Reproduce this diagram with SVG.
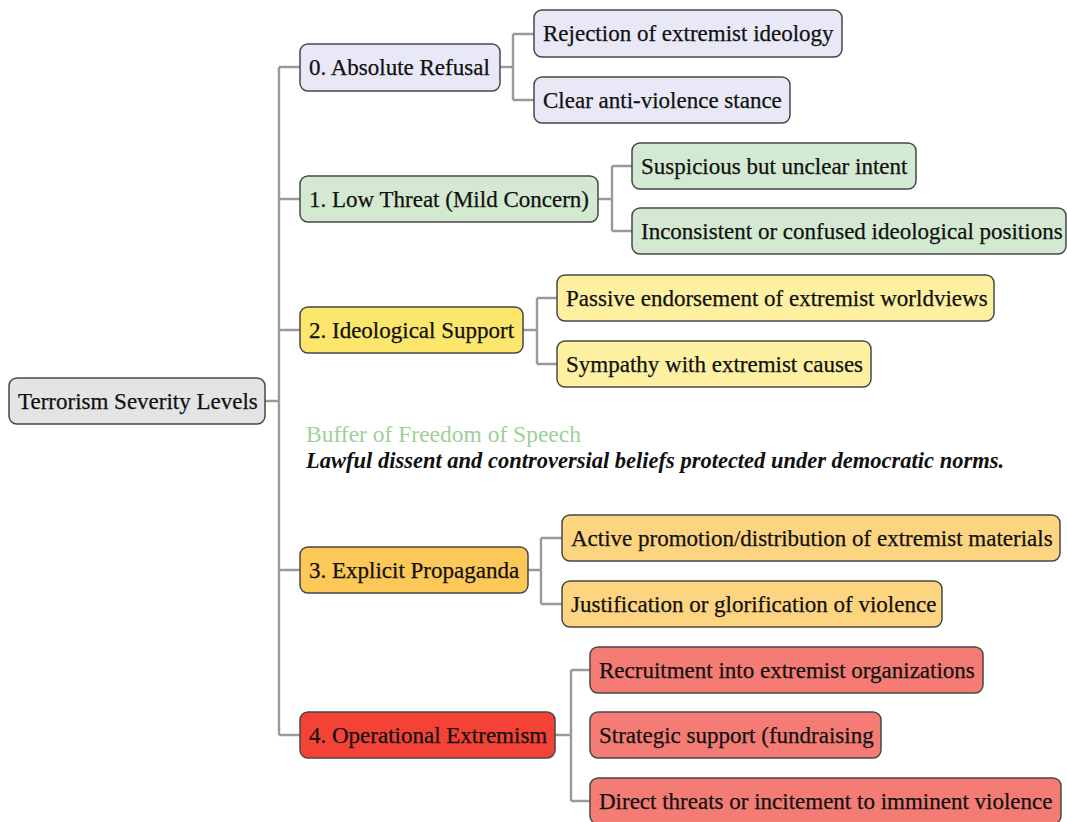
<svg xmlns="http://www.w3.org/2000/svg" width="1067" height="822" viewBox="0 0 1067 822">
<style>
.b{stroke:#474747;stroke-width:1.5}
.t{font-family:"Liberation Serif","Times New Roman",serif;font-size:23px;fill:#111;stroke:#111;stroke-width:0.25}
.c{fill:none;stroke:#9a9a9a;stroke-width:2.4}
.root{fill:#e4e4e4}
.l0{fill:#e8e8f7}
.l1{fill:#d4e9d2}
.l2{fill:#fce76c}
.l2c{fill:#fdf0a0}
.l3{fill:#fcc858}
.l3c{fill:#fdd47f}
.l4{fill:#f44336}
.l4c{fill:#f47c74}
</style>
<rect width="1067" height="822" fill="#fff"/>
<g id="connectors">
<path class="c" d="M265 401H279M279 67V735M279 67H300M279 199H300M279 330H300M279 570H300M279 735H300"/>
<path class="c" d="M500 67H513M513 34V100M513 34H534M513 100H534"/>
<path class="c" d="M598 199H612M612 166V231M612 166H632M612 231H632"/>
<path class="c" d="M523 330H537M537 298V364M537 298H557M537 364H557"/>
<path class="c" d="M528 570H541M541 538V604M541 538H562M541 604H562"/>
<path class="c" d="M555 735H571M571 670V801M571 670H590M571 801H590"/>
</g>
<g id="root"><rect class="b root" x="9" y="378" width="256" height="46" rx="8"/><text class="t" x="18" y="409">Terrorism Severity Levels</text></g>
<g id="level0"><rect class="b l0" x="300" y="44" width="200" height="47" rx="8"/><text class="t" x="309" y="75">0. Absolute Refusal</text></g>
<g id="level0-a"><rect class="b l0" x="534" y="10" width="308" height="47" rx="8"/><text class="t" x="543" y="41">Rejection of extremist ideology</text></g>
<g id="level0-b"><rect class="b l0" x="534" y="77" width="256" height="46" rx="8"/><text class="t" x="543" y="108">Clear anti-violence stance</text></g>
<g id="level1"><rect class="b l1" x="300" y="176" width="298" height="46" rx="8"/><text class="t" x="309" y="207">1. Low Threat (Mild Concern)</text></g>
<g id="level1-a"><rect class="b l1" x="632" y="143" width="284" height="46" rx="8"/><text class="t" x="641" y="174">Suspicious but unclear intent</text></g>
<g id="level1-b"><rect class="b l1" x="632" y="208" width="434" height="46" rx="8"/><text class="t" x="641" y="239">Inconsistent or confused ideological positions</text></g>
<g id="level2"><rect class="b l2" x="300" y="307" width="223" height="46" rx="8"/><text class="t" x="309" y="338">2. Ideological Support</text></g>
<g id="level2-a"><rect class="b l2c" x="557" y="275" width="437" height="46" rx="8"/><text class="t" x="566" y="306">Passive endorsement of extremist worldviews</text></g>
<g id="level2-b"><rect class="b l2c" x="557" y="341" width="314" height="46" rx="8"/><text class="t" x="566" y="372">Sympathy with extremist causes</text></g>
<g id="buffer">
<text x="306" y="442" style="font-family:'Liberation Serif','Times New Roman',serif;font-size:23.5px;fill:#9fcf98">Buffer of Freedom of Speech</text>
<text x="306" y="468" style="font-family:'Liberation Serif','Times New Roman',serif;font-size:22.5px;font-style:italic;font-weight:bold;fill:#111">Lawful dissent and controversial beliefs protected under democratic norms.</text>
</g>
<g id="level3"><rect class="b l3" x="300" y="547" width="228" height="46" rx="8"/><text class="t" x="309" y="578">3. Explicit Propaganda</text></g>
<g id="level3-a"><rect class="b l3c" x="562" y="515" width="498" height="46" rx="8"/><text class="t" x="571" y="546">Active promotion/distribution of extremist materials</text></g>
<g id="level3-b"><rect class="b l3c" x="562" y="581" width="380" height="46" rx="8"/><text class="t" x="571" y="612">Justification or glorification of violence</text></g>
<g id="level4"><rect class="b l4" x="300" y="712" width="255" height="46" rx="8"/><text class="t" x="309" y="743">4. Operational Extremism</text></g>
<g id="level4-a"><rect class="b l4c" x="590" y="647" width="393" height="46" rx="8"/><text class="t" x="599" y="678">Recruitment into extremist organizations</text></g>
<g id="level4-b"><rect class="b l4c" x="590" y="712" width="291" height="46" rx="8"/><text class="t" x="599" y="743">Strategic support (fundraising</text></g>
<g id="level4-c"><rect class="b l4c" x="590" y="778" width="471" height="46" rx="8"/><text class="t" x="599" y="809">Direct threats or incitement to imminent violence</text></g>
</svg>
